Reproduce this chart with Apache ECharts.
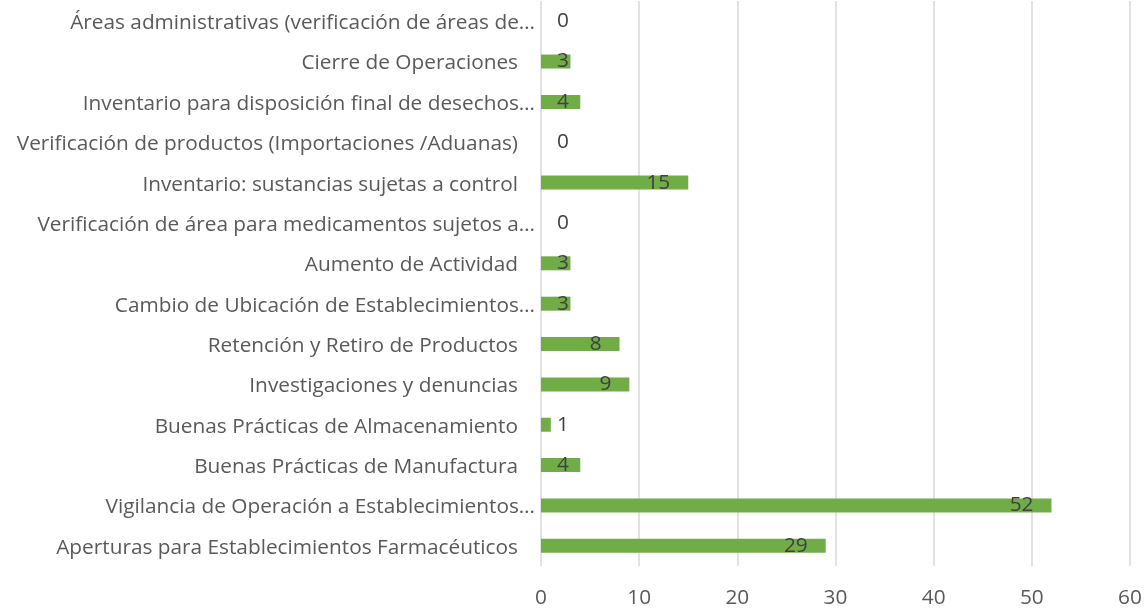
<!DOCTYPE html>
<html>
<head>
<meta charset="utf-8">
<script src="https://cdn.jsdelivr.net/npm/echarts@6/dist/echarts.min.js"></script>
<style>
  html, body { margin: 0; padding: 0; background: #fff; }
  #main { width: 1146px; height: 609px; }
</style>
</head>
<body>
<div id="main"></div>
<script>
var myChart = echarts.init(document.getElementById('main'));

// categorías de abajo hacia arriba
var categorias = [
    'Aperturas para Establecimientos Farmacéuticos',
    'Vigilancia de Operación a Establecimientos…',
    'Buenas Prácticas de Manufactura',
    'Buenas Prácticas de Almacenamiento',
    'Investigaciones y denuncias',
    'Retención y Retiro de Productos',
    'Cambio de Ubicación de Establecimientos…',
    'Aumento de Actividad',
    'Verificación de área para medicamentos sujetos a…',
    'Inventario: sustancias sujetas a control',
    'Verificación de productos (Importaciones /Aduanas)',
    'Inventario para disposición final de desechos…',
    'Cierre de Operaciones',
    'Áreas administrativas (verificación de áreas de…'
];
var valores = [29, 52, 4, 1, 9, 8, 3, 3, 0, 15, 0, 4, 3, 0];
var ticks = [0, 10, 20, 30, 40, 50, 60];

var datos = valores.map(function (v) {
    var pequeno = v < 5;
    return {
        value: v,
        label: {
            position: pequeno ? 'insideLeft' : 'insideRight',
            distance: pequeno ? 16 : 18
        }
    };
});

var fs = 20.8;

var option = {
    textStyle: { fontFamily: 'Open Sans' },
    grid: { left: 541, right: 16, top: 1, bottom: 43 },
    xAxis: {
        type: 'value',
        min: ticks[0],
        max: ticks[ticks.length - 1],
        interval: 10,
        axisLine: { show: false },
        axisTick: { show: false },
        axisLabel: { color: '#595959', fontSize: fs, margin: 22 },
        splitLine: { lineStyle: { color: '#d9d9d9', width: 1.5 } }
    },
    yAxis: {
        type: 'category',
        data: categorias,
        axisLine: { show: false },
        axisTick: { show: false },
        axisLabel: {
            color: '#595959',
            fontSize: fs,
            margin: 6,
            formatter: function (t) {
                return t.slice(-1) === '…' ? '{a|' + t + '}' : '{b|' + t + '}';
            },
            rich: {
                a: { color: '#595959', fontSize: fs, fontFamily: 'Open Sans', padding: [4, 0, 0, 0] },
                b: { color: '#595959', fontSize: fs, fontFamily: 'Open Sans', padding: [4, 17, 0, 0] }
            }
        }
    },
    series: [{
        type: 'bar',
        data: datos,
        barWidth: 14,
        itemStyle: { color: '#70ad47' },
        label: {
            show: true,
            color: '#404040',
            fontSize: fs,
            fontFamily: 'Open Sans',
            padding: [7, 0, 0, 0]
        },
        animation: false
    }]
};

myChart.setOption(option);
</script>
</body>
</html>
